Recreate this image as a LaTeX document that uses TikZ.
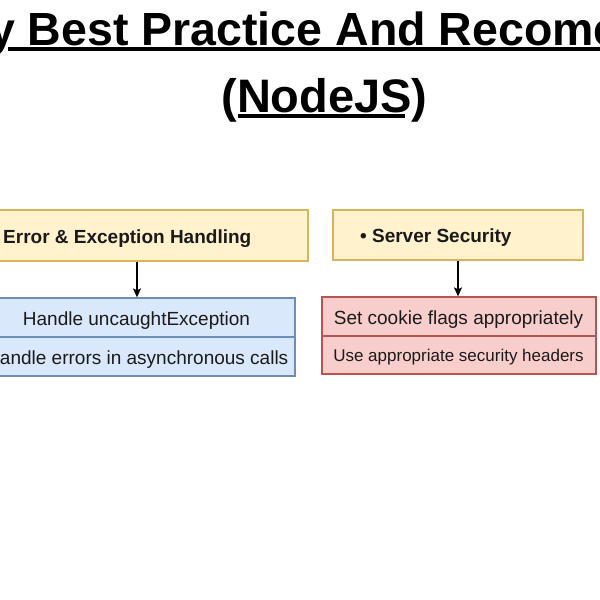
\documentclass[tikz,border=0pt]{standalone}
\usepackage{fontspec}
\setmainfont{Liberation Sans}
\usetikzlibrary{arrows.meta}
\definecolor{yfill}{HTML}{FFF2CC}
\definecolor{ydraw}{HTML}{D6B656}
\definecolor{bfill}{HTML}{DAE8FC}
\definecolor{bdraw}{HTML}{6C8EBF}
\definecolor{rfill}{HTML}{F8CECC}
\definecolor{rdraw}{HTML}{B85450}
\definecolor{txt}{HTML}{1A1A1A}
\tikzset{
  ybox/.style={draw=ydraw, fill=yfill, line width=1.3pt, inner sep=0pt},
  bbox/.style={draw=bdraw, fill=bfill, line width=1.3pt, inner sep=0pt},
  rbox/.style={draw=rdraw, fill=rfill, line width=1.3pt, inner sep=0pt},
  lbl/.style={inner sep=0pt, text=txt, font=\fontsize{19}{22}\selectfont},
  blbl/.style={inner sep=0pt, text=txt, font=\fontsize{19}{22}\selectfont\bfseries},
  slbl/.style={inner sep=0pt, text=txt, font=\fontsize{17}{20}\selectfont},
  ttl/.style={inner sep=0pt, text=black, font=\fontsize{46.5}{50}\selectfont\bfseries},
  uline/.style={line width=3.5pt, black},
  conn/.style={line width=1.3pt, black, -{Stealth[length=9pt,width=8pt,inset=2pt]}}
}
\begin{document}
\begin{tikzpicture}[x=1pt,y=-1pt]
\useasboundingbox (0,0) rectangle (600,600);
\clip (0,0) rectangle (600,600);
\fill[white] (0,0) rectangle (600,600);

% title
\node[ttl, anchor=base west] (t1) at (-11,45) {y Best Practice And Recome};
\coordinate (u1a) at (8,49);
\coordinate (u1b) at (600,49);
\draw[uline] (u1a) -- (u1b);
\node[ttl, font=\fontsize{47}{50}\selectfont\bfseries, anchor=base] (t2) at (324.5,112) {(NodeJS)};
\coordinate (u2a) at (238,116);
\coordinate (u2b) at (405,116);
\draw[uline] (u2a) -- (u2b);

% yellow boxes
\node[ybox, minimum width=340pt, minimum height=51pt] (eh) at (138,235.5) {};
\node[blbl, anchor=base west] (ehl) at (3,243) {Error \& Exception Handling};
\node[ybox, minimum width=250pt, minimum height=50pt] (ss) at (458,235) {};
\node[blbl, anchor=base west] (ssl) at (360,242.5) {• Server Security};

% blue box
\node[bbox, minimum width=316pt, minimum height=39pt] (b1) at (137,317.5) {};
\node[bbox, minimum width=316pt, minimum height=39pt] (b2) at (137,356.5) {};
\node[lbl, anchor=base] (b1l) at (136.5,325) {Handle uncaughtException};
\node[lbl, anchor=base east] (b2l) at (288.5,364) {andle errors in asynchronous calls};

% red box
\node[rbox, minimum width=274pt, minimum height=39pt] (r1) at (459,316.5) {};
\node[rbox, minimum width=274pt, minimum height=38pt] (r2) at (459,355) {};
\node[lbl, anchor=base] (r1l) at (458.5,324) {Set cookie flags appropriately};
\node[slbl, anchor=base] (r2l) at (458.5,361.5) {Use appropriate security headers};

% connectors
\draw[conn] (eh.south -| b1.north) -- (b1.north);
\draw[conn] (ss.south) -- (ss.south |- r1.north);
\end{tikzpicture}
\end{document}
